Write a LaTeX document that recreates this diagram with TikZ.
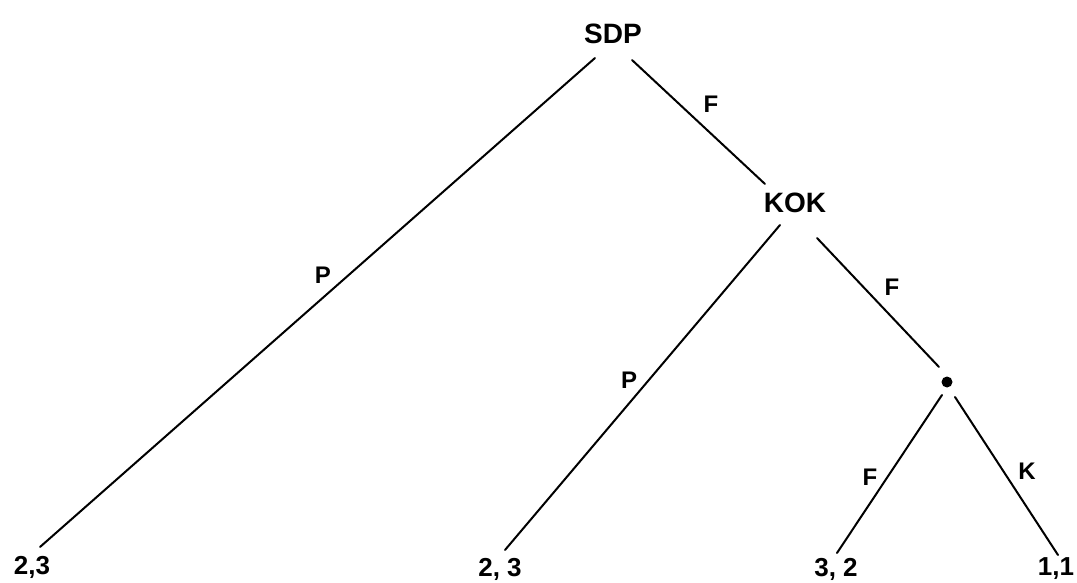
\documentclass[tikz,border=0pt]{standalone}
\usepackage{fontspec}
\setmainfont{Liberation Sans}
\usetikzlibrary{calc}

\tikzset{
  player/.style={inner sep=0pt, font=\bfseries\fontsize{28}{32}\selectfont},
  payoff/.style={inner sep=0pt, font=\bfseries\fontsize{26}{30}\selectfont},
  movelbl/.style={inner sep=0pt, font=\bfseries\fontsize{24}{28}\selectfont},
  branch/.style={line width=2pt, line cap=round},
}

\begin{document}
\begin{tikzpicture}[x=1pt, y=-1pt]
    \useasboundingbox (0,0) rectangle (1077,583);

    % decision nodes
    \node[player] (sdp) at (613,34) {SDP};
    \node[player] (kok) at (795,203) {KOK};
    \node[circle, fill=black, inner sep=0pt, minimum size=11pt] (chance) at (947,382) {};

    % payoffs
    \node[payoff] (leafA) at (32,567) {2,3};
    \node[payoff] (leafB) at (500,569) {2, 3};
    \node[payoff] (leafC) at (836,569) {3, 2};
    \node[payoff] (leafD) at (1056,569) {1,1};

    % branches
    \draw[branch] ($(sdp)+(-18,24)$) -- ($(leafA)+(8,-20)$);
    \draw[branch] ($(sdp)+(19,26)$) -- ($(kok)+(-30,-19)$);
    \draw[branch] ($(kok)+(-15,22)$) -- ($(leafB)+(5,-19)$);
    \draw[branch] ($(kok)+(22,35)$) -- ($(chance)+(-8,-15)$);
    \draw[branch] ($(chance)+(-5,13)$) -- ($(leafC)+(1,-16)$);
    \draw[branch] ($(chance)+(8,15)$) -- ($(leafD)+(2,-14)$);

    % move labels
    \node[movelbl] (mvA) at (323,275) {P};
    \node[movelbl] (mvB) at (711,104) {F};
    \node[movelbl] (mvC) at (629,380) {P};
    \node[movelbl] (mvD) at (892,287) {F};
    \node[movelbl] (mvE) at (870,477) {F};
    \node[movelbl] (mvF) at (1027,471) {K};
\end{tikzpicture}
\end{document}
